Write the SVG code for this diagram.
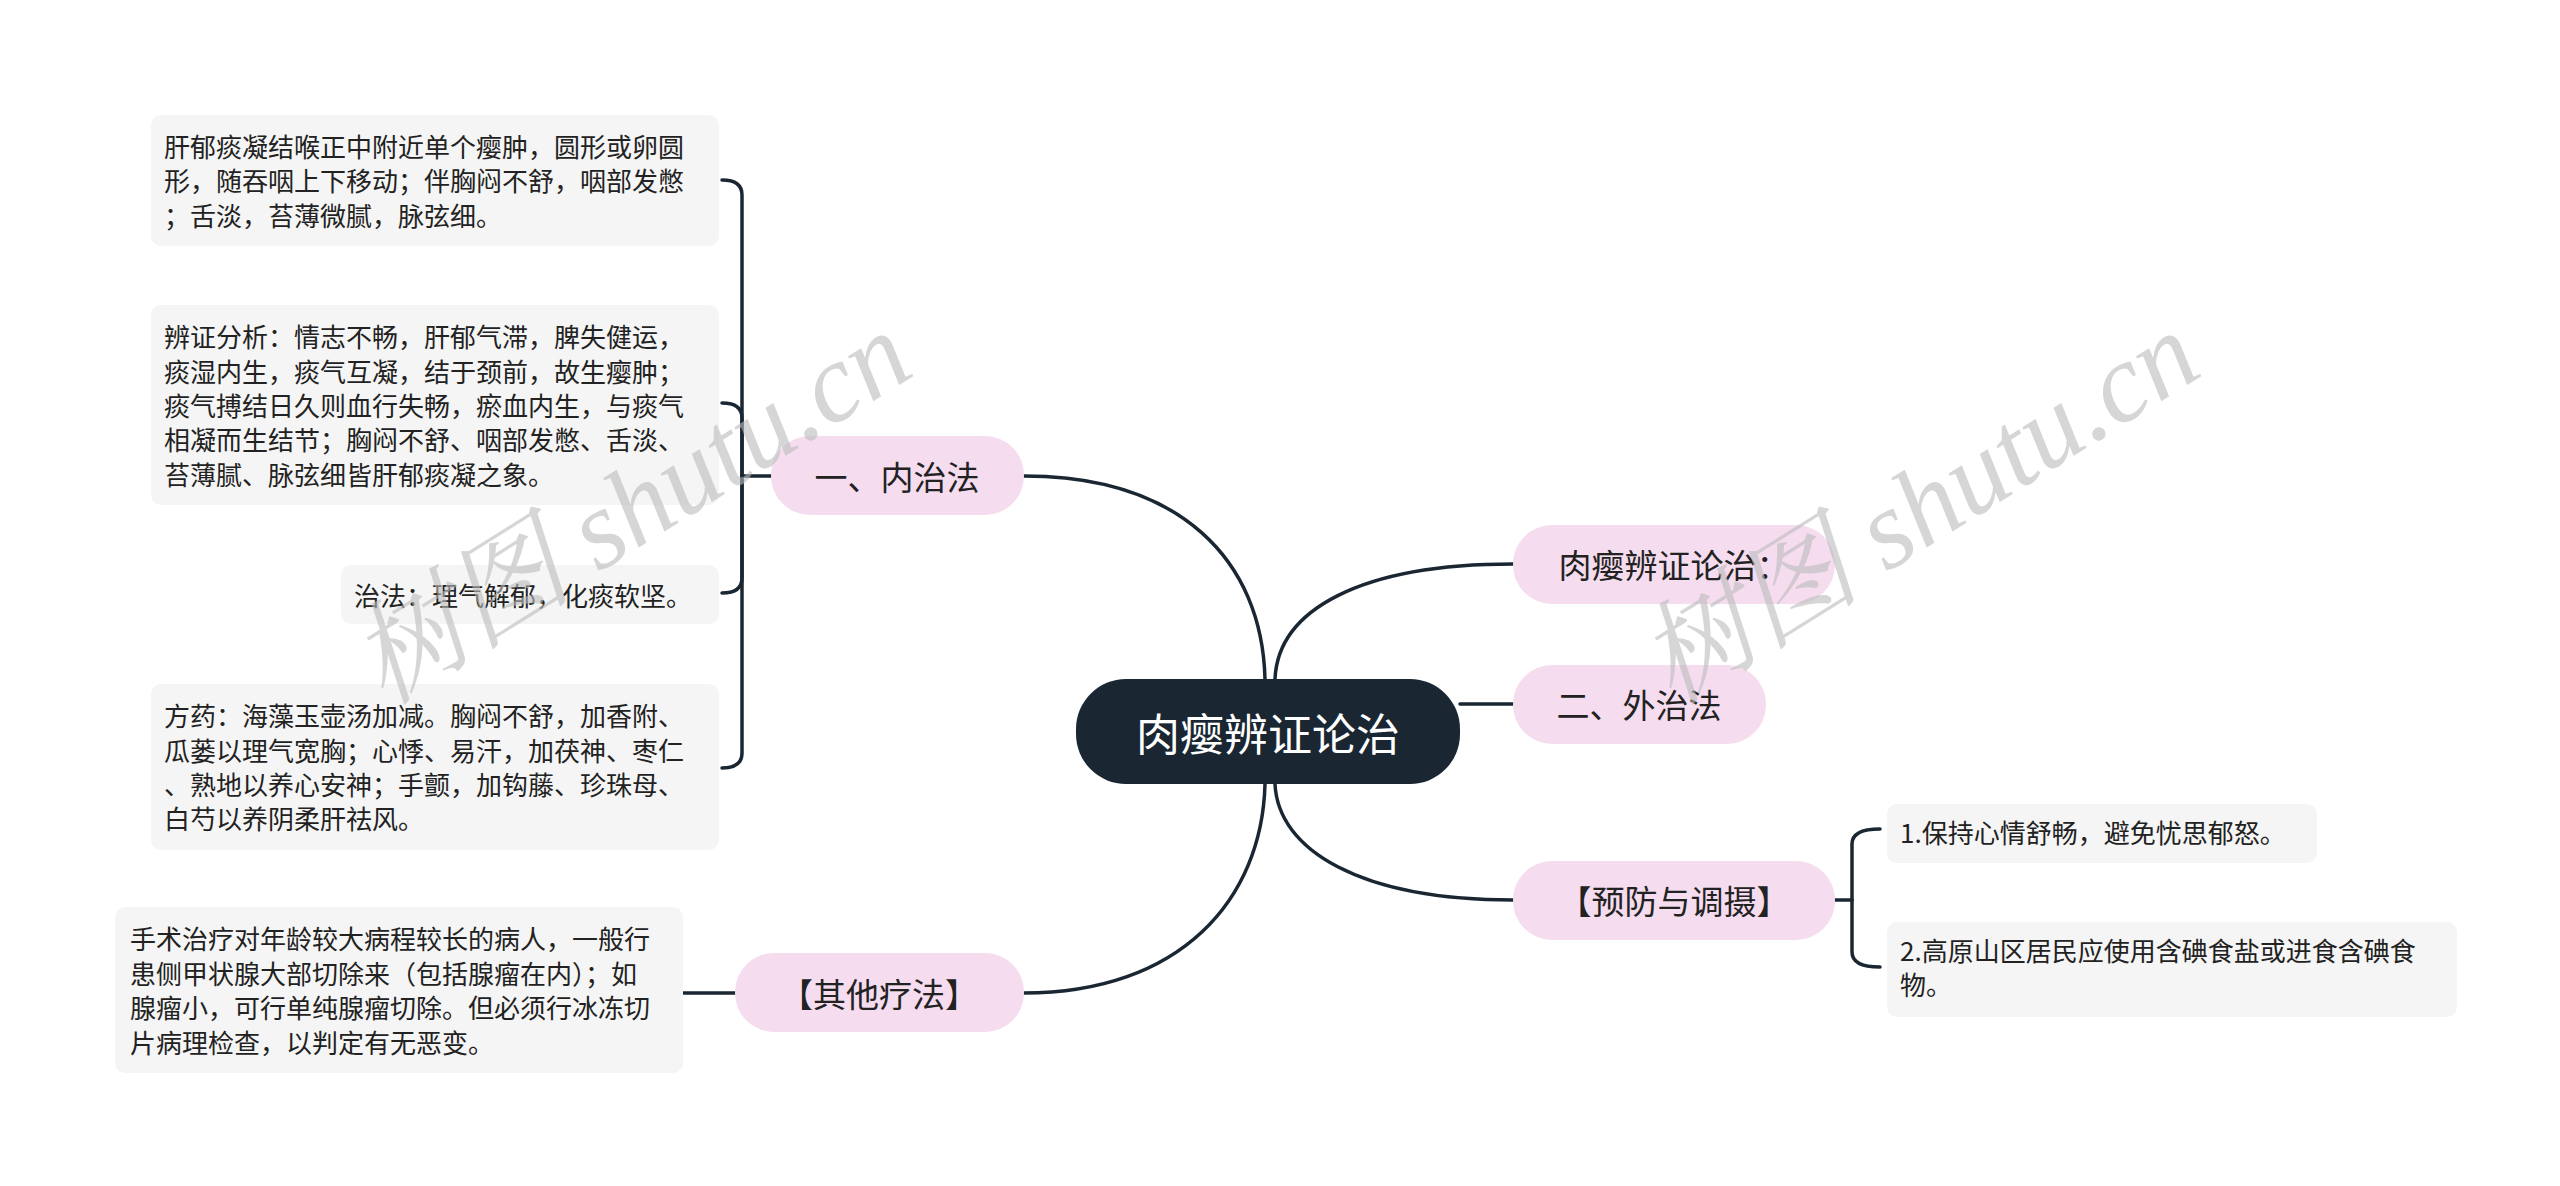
<svg xmlns="http://www.w3.org/2000/svg" width="2560" height="1186" viewBox="0 0 2560 1186">
<style>
.t{font-family:"Noto Sans CJK SC","Noto Sans",sans-serif;fill:#222}
.leaf rect{fill:#f5f5f5}
.leaf text{font-size:26px}
.pill rect{fill:#f5dcef}
.pill text{font-size:33px;text-anchor:middle;dominant-baseline:central}
.c path{fill:none;stroke:#1a2733;stroke-width:3.5;stroke-linecap:round}
.wm{font-family:"Liberation Serif","Noto Serif CJK SC","Noto Sans CJK SC",serif;font-style:italic;font-size:112px;fill:#bbb;opacity:.6;text-anchor:middle}
</style>
<rect width="2560" height="1186" fill="#fff"/>
<g class="c" id="connectors">
<path d="M1024 476 C1180 476 1262 560 1265 679"/>
<path d="M1024 993 C1180 993 1262 900 1265 784"/>
<path d="M1513 564 C1360 564 1278 610 1275 679"/>
<path d="M1460 704 L1513 704"/>
<path d="M1513 900 C1360 900 1278 850 1275 784"/>
<path d="M771 476 L742 476"/>
<path d="M742 476 L742 195 Q742 180 722 180"/>
<path d="M742 476 L742 418 Q742 403 722 403"/>
<path d="M742 476 L742 578 Q742 593 722 593"/>
<path d="M742 476 L742 753 Q742 768 722 768"/>
<path d="M735 993 L683 993"/>
<path d="M1835 900 L1852 900"/>
<path d="M1852 900 L1852 844 Q1852 829 1880 829"/>
<path d="M1852 900 L1852 952 Q1852 967 1880 967"/>
</g>
<g id="center">
<rect x="1076" y="679" width="384" height="105" rx="50" fill="#1a2733"/>
<text class="t" x="1268" y="732" font-size="44" fill="#fff" style="fill:#fff" text-anchor="middle" dominant-baseline="central">肉瘿辨证论治</text>
</g>
<g id="n1" class="pill"><rect x="771" y="436" width="253" height="79" rx="39"/><text class="t" x="897" y="476">一、内治法</text></g>
<g id="n2" class="pill"><rect x="735" y="953" width="289" height="79" rx="39"/><text class="t" x="879" y="993">【其他疗法】</text></g>
<g id="n3" class="pill"><rect x="1513" y="525" width="322" height="79" rx="39"/><text class="t" x="1674" y="564">肉瘿辨证论治：</text></g>
<g id="n4" class="pill"><rect x="1513" y="665" width="253" height="79" rx="39"/><text class="t" x="1639" y="704">二、外治法</text></g>
<g id="n5" class="pill"><rect x="1513" y="861" width="322" height="79" rx="39"/><text class="t" x="1674" y="900">【预防与调摄】</text></g>
<g id="l1" class="leaf"><rect x="151" y="115" width="568" height="131" rx="10"/>
<text class="t" x="164"><tspan x="164" y="157">肝郁痰凝结喉正中附近单个瘿肿，圆形或卵圆</tspan><tspan x="164" y="191">形，随吞咽上下移动；伴胸闷不舒，咽部发憋</tspan><tspan x="164" y="226">；舌淡，苔薄微腻，脉弦细。</tspan></text></g>
<g id="l2" class="leaf"><rect x="151" y="305" width="568" height="200" rx="10"/>
<text class="t"><tspan x="164" y="347">辨证分析：情志不畅，肝郁气滞，脾失健运，</tspan><tspan x="164" y="382">痰湿内生，痰气互凝，结于颈前，故生瘿肿；</tspan><tspan x="164" y="416">痰气搏结日久则血行失畅，瘀血内生，与痰气</tspan><tspan x="164" y="450">相凝而生结节；胸闷不舒、咽部发憋、舌淡、</tspan><tspan x="164" y="485">苔薄腻、脉弦细皆肝郁痰凝之象。</tspan></text></g>
<g id="l3" class="leaf"><rect x="341" y="565" width="378" height="59" rx="10"/>
<text class="t" x="354" y="606">治法：理气解郁，化痰软坚。</text></g>
<g id="l4" class="leaf"><rect x="151" y="684" width="568" height="166" rx="10"/>
<text class="t"><tspan x="164" y="726">方药：海藻玉壶汤加减。胸闷不舒，加香附、</tspan><tspan x="164" y="761">瓜蒌以理气宽胸；心悸、易汗，加茯神、枣仁</tspan><tspan x="164" y="795">、熟地以养心安神；手颤，加钩藤、珍珠母、</tspan><tspan x="164" y="829">白芍以养阴柔肝祛风。</tspan></text></g>
<g id="l5" class="leaf"><rect x="115" y="907" width="568" height="166" rx="10"/>
<text class="t"><tspan x="130" y="949">手术治疗对年龄较大病程较长的病人，一般行</tspan><tspan x="130" y="984">患侧甲状腺大部切除来（包括腺瘤在内）；如</tspan><tspan x="130" y="1018">腺瘤小，可行单纯腺瘤切除。但必须行冰冻切</tspan><tspan x="130" y="1053">片病理检查，以判定有无恶变。</tspan></text></g>
<g id="l6" class="leaf"><rect x="1887" y="804" width="430" height="59" rx="10"/>
<text class="t" x="1900" y="843">1.保持心情舒畅，避免忧思郁怒。</text></g>
<g id="l7" class="leaf"><rect x="1887" y="922" width="570" height="95" rx="10"/>
<text class="t"><tspan x="1900" y="961">2.高原山区居民应使用含碘食盐或进食含碘食</tspan><tspan x="1900" y="995">物。</tspan></text></g>
<text class="wm" transform="translate(651,540) rotate(-32)">树图 shutu.cn</text>
<text class="wm" transform="translate(1939,540) rotate(-32)">树图 shutu.cn</text>
</svg>
